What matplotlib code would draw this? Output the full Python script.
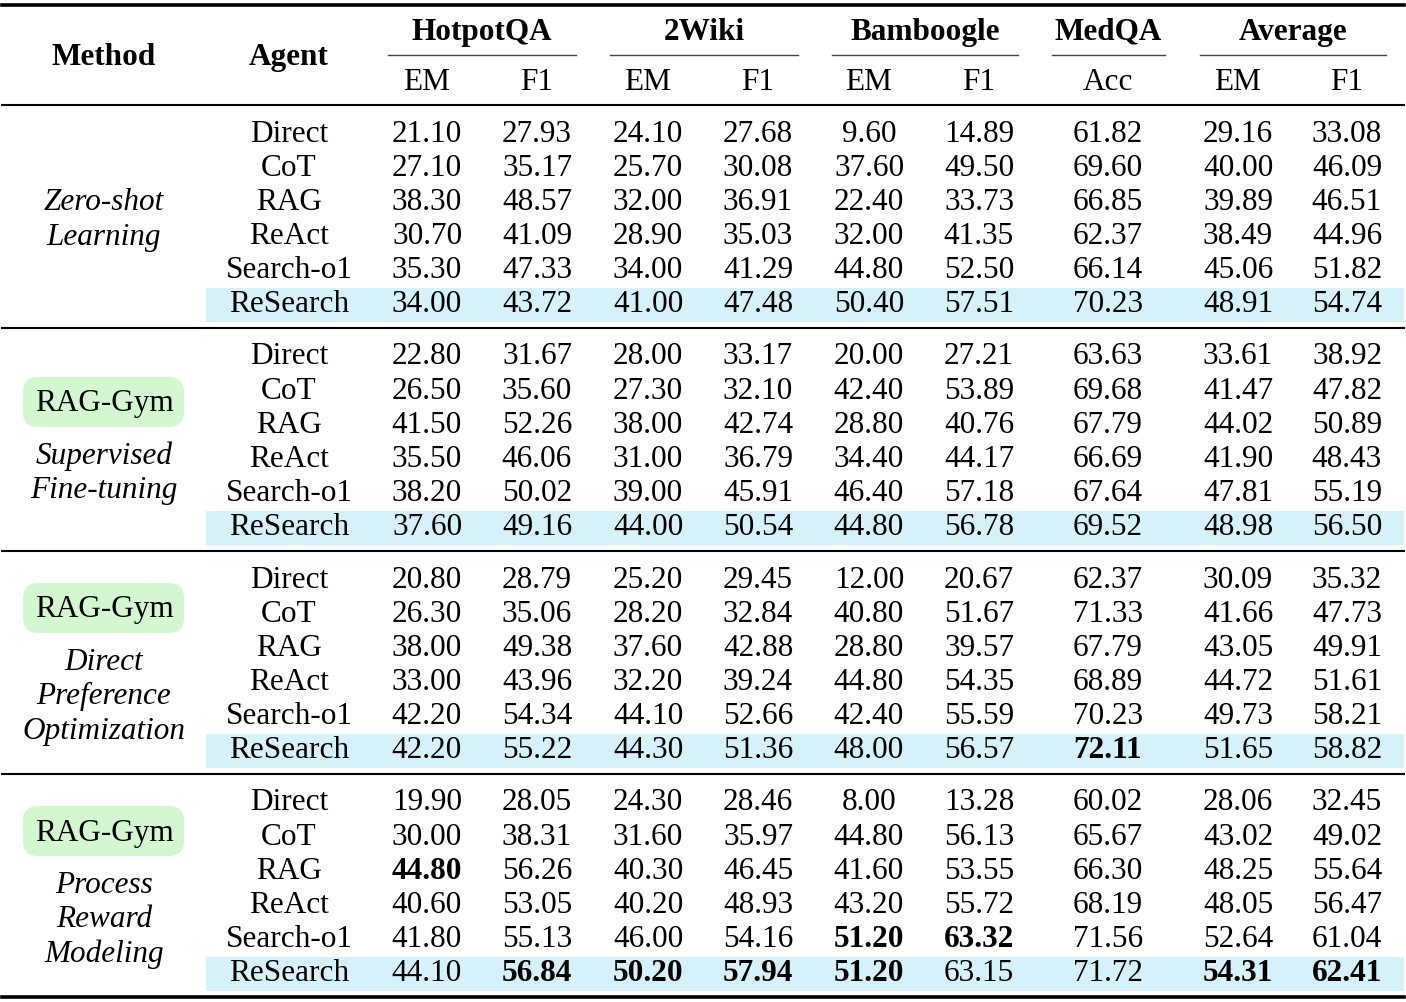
import matplotlib.pyplot as plt
from matplotlib.patches import FancyBboxPatch, Rectangle

plt.rcParams['font.family'] = ['Liberation Serif', 'DejaVu Serif']

# datos de la tabla
datasets = ['HotpotQA', '2Wiki', 'Bamboogle', 'MedQA', 'Average']
metricas = ['EM', 'F1', 'EM', 'F1', 'EM', 'F1', 'Acc', 'EM', 'F1']
agentes = ['Direct', 'CoT', 'RAG', 'ReAct', 'Search-o1', 'ReSearch']
metodos = [
    (None, ['Zero-shot', 'Learning']),
    ('RAG-Gym', ['Supervised', 'Fine-tuning']),
    ('RAG-Gym', ['Direct', 'Preference', 'Optimization']),
    ('RAG-Gym', ['Process', 'Reward', 'Modeling']),
]

zero_shot = [
    [21.10, 27.93, 24.10, 27.68, 9.60, 14.89, 61.82, 29.16, 33.08],
    [27.10, 35.17, 25.70, 30.08, 37.60, 49.50, 69.60, 40.00, 46.09],
    [38.30, 48.57, 32.00, 36.91, 22.40, 33.73, 66.85, 39.89, 46.51],
    [30.70, 41.09, 28.90, 35.03, 32.00, 41.35, 62.37, 38.49, 44.96],
    [35.30, 47.33, 34.00, 41.29, 44.80, 52.50, 66.14, 45.06, 51.82],
    [34.00, 43.72, 41.00, 47.48, 50.40, 57.51, 70.23, 48.91, 54.74],
]
sft = [
    [22.80, 31.67, 28.00, 33.17, 20.00, 27.21, 63.63, 33.61, 38.92],
    [26.50, 35.60, 27.30, 32.10, 42.40, 53.89, 69.68, 41.47, 47.82],
    [41.50, 52.26, 38.00, 42.74, 28.80, 40.76, 67.79, 44.02, 50.89],
    [35.50, 46.06, 31.00, 36.79, 34.40, 44.17, 66.69, 41.90, 48.43],
    [38.20, 50.02, 39.00, 45.91, 46.40, 57.18, 67.64, 47.81, 55.19],
    [37.60, 49.16, 44.00, 50.54, 44.80, 56.78, 69.52, 48.98, 56.50],
]
dpo = [
    [20.80, 28.79, 25.20, 29.45, 12.00, 20.67, 62.37, 30.09, 35.32],
    [26.30, 35.06, 28.20, 32.84, 40.80, 51.67, 71.33, 41.66, 47.73],
    [38.00, 49.38, 37.60, 42.88, 28.80, 39.57, 67.79, 43.05, 49.91],
    [33.00, 43.96, 32.20, 39.24, 44.80, 54.35, 68.89, 44.72, 51.61],
    [42.20, 54.34, 44.10, 52.66, 42.40, 55.59, 70.23, 49.73, 58.21],
    [42.20, 55.22, 44.30, 51.36, 48.00, 56.57, 72.11, 51.65, 58.82],
]
prm = [
    [19.90, 28.05, 24.30, 28.46, 8.00, 13.28, 60.02, 28.06, 32.45],
    [30.00, 38.31, 31.60, 35.97, 44.80, 56.13, 65.67, 43.02, 49.02],
    [44.80, 56.26, 40.30, 46.45, 41.60, 53.55, 66.30, 48.25, 55.64],
    [40.60, 53.05, 40.20, 48.93, 43.20, 55.72, 68.19, 48.05, 56.47],
    [41.80, 55.13, 46.00, 54.16, 51.20, 63.32, 71.56, 52.64, 61.04],
    [44.10, 56.84, 50.20, 57.94, 51.20, 63.15, 71.72, 54.31, 62.41],
]
bloques = [zero_shot, sft, dpo, prm]

# celdas en negrita: (bloque, fila, columna)
negritas = [(2, 5, 6), (3, 2, 0), (3, 4, 4), (3, 4, 5),
            (3, 5, 1), (3, 5, 2), (3, 5, 3), (3, 5, 4), (3, 5, 7), (3, 5, 8)]

# layout en pixeles
W, H = 1406, 1002
fig = plt.figure(figsize=(W / 100, H / 100), dpi=100)
ax = fig.add_axes([0, 0, 1, 1])
ax.set_xlim(0, W)
ax.set_ylim(H, 0)
ax.axis('off')

fs = 22.5
cap = 10.5  # media altura de mayusculas en px
x_met = 104
x_age = 289
x_cols = [427, 537, 648, 758, 869, 979, 1108, 1238, 1347]
x_grupos = [(388, 576), (610, 798), (832, 1018), (1052, 1165), (1200, 1386)]
paso = 34.1
y_inicio = [131, 354, 577, 800]
y_sep = [328, 551, 774]
y_insignia = [None, 47, 30, 30]
azul = '#d5f1fa'
verde = '#d3f8d0'


def texto(x, y, s, **kw):
    ax.text(x, y + cap, s, ha='center', va='baseline', fontsize=fs, **kw)


# reglas
ax.plot([2, 1404], [5, 5], color='black', lw=2.6)
ax.plot([2, 1404], [105, 105], color='black', lw=1.5)
for y in y_sep:
    ax.plot([2, 1404], [y, y], color='black', lw=1.5)
ax.plot([2, 1404], [997, 997], color='black', lw=2.6)

# cabecera
texto(x_met, 54, 'Method', fontweight='bold')
texto(x_age, 54, 'Agent', fontweight='bold')
for nombre, (x0, x1) in zip(datasets, x_grupos):
    texto((x0 + x1) / 2, 29, nombre, fontweight='bold')
    ax.plot([x0, x1], [55, 55], color='#444444', lw=1.0)
for m, x in zip(metricas, x_cols):
    texto(x, 79, m)

# bloques
for b, datos in enumerate(bloques):
    y0 = y_inicio[b]
    ys = [y0 + i * paso for i in range(len(agentes))]
    # fila resaltada de ReSearch
    ax.add_patch(Rectangle((206, ys[5] - 14), 1404 - 206, 34, color=azul, lw=0, zorder=0))
    for i, (agente, fila) in enumerate(zip(agentes, datos)):
        texto(x_age, ys[i], agente)
        for j, v in enumerate(fila):
            peso = 'bold' if (b, i, j) in negritas else 'normal'
            texto(x_cols[j], ys[i], f'{v:.2f}', fontweight=peso)

    insignia, lineas = metodos[b]
    if insignia is None:
        yl = [y0 + 68, y0 + 103]
    else:
        yb = y0 + y_insignia[b]
        ax.add_patch(FancyBboxPatch((29, yb - 18), 149, 38,
                                    boxstyle='round,pad=6,rounding_size=15',
                                    fc=verde, ec='none', zorder=1))
        texto(x_met, yb, insignia, zorder=2)
        yl = [yb + 52.5 + k * 34.3 for k in range(len(lineas))]
    for t, y in zip(lineas, yl):
        texto(x_met, y, t, style='italic')

fig.savefig('out.png', dpi=100)
